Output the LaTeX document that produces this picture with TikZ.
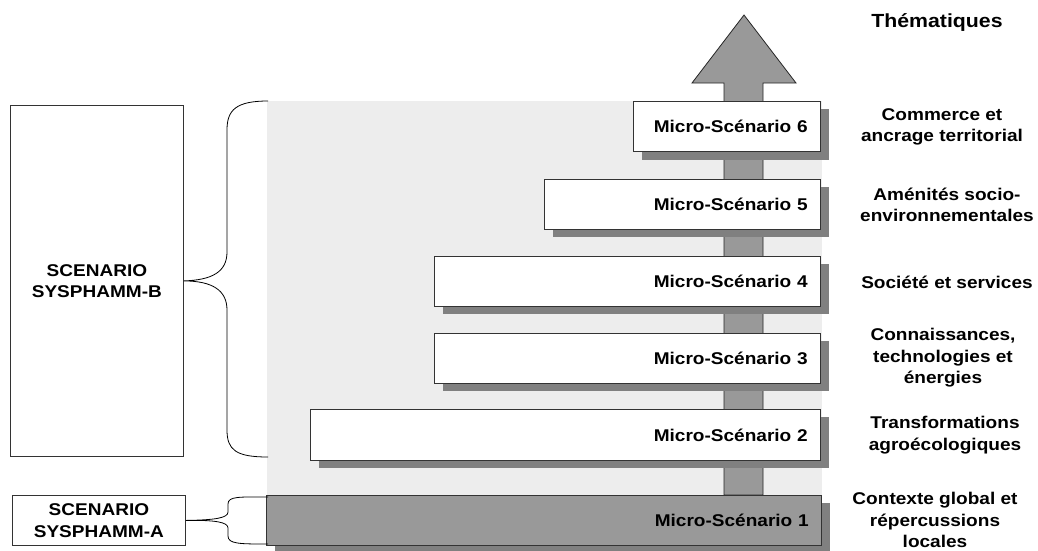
\documentclass[tikz,border=0pt]{standalone}
\usepackage{fontspec}
\setmainfont[FakeStretch=1.12]{Liberation Sans}
\begin{document}
\begin{tikzpicture}[x=1pt,y=-1pt,
  every node/.style={font=\fontsize{17}{21.5}\selectfont\bfseries},
  msbox/.style={draw=black!80, line width=0.8pt, fill=white, minimum height=50pt, inner xsep=13pt, anchor=north east, align=right},
  scenbox/.style={draw=black!80, line width=0.8pt, fill=white, align=center, inner sep=0pt},
  lab/.style={align=center, inner sep=0pt},
  brace/.style={draw=black, line width=0.8pt}]
\useasboundingbox (0,0) rectangle (1038,550);
% background area
\fill[black!7] (267,101) rectangle (822,495);
% big arrow
\draw[fill=black!40, draw=black!85, line width=0.8pt]
  (724,495) -- (724,83) -- (692,83) -- (744,15) -- (796,83) -- (763,83) -- (763,495) -- cycle;
% shadows
\foreach \xa/\ya/\xb/\yb in {634/101/821/152, 545/179/821/229, 435/256/821/306, 435/333/821/383, 311/409/821/460, 267/495/822/545}{
  \fill[black!50] (\xa+8,\ya+8) rectangle (\xb+8,\yb+8);
}
% micro-scenario boxes
\node[msbox, minimum width=187pt, text width=161pt] (m6) at (821,101) {Micro-Scénario 6};
\node[msbox, minimum width=276pt, text width=250pt] (m5) at (821,179) {Micro-Scénario 5};
\node[msbox, minimum width=386pt, text width=360pt] (m4) at (821,256) {Micro-Scénario 4};
\node[msbox, minimum width=386pt, text width=360pt] (m3) at (821,333) {Micro-Scénario 3};
\node[msbox, minimum width=510pt, text width=484pt, minimum height=51pt] (m2) at (821,409) {Micro-Scénario 2};
\node[msbox, fill=black!40, minimum width=555pt, text width=529pt] (m1) at (822,495) {Micro-Scénario 1};
% scenario boxes
\node[scenbox, minimum width=173pt, minimum height=351pt, anchor=north west] (sb) at (10,105) {SCENARIO\\SYSPHAMM-B};
\node[scenbox, minimum width=173pt, minimum height=50pt, anchor=north west] (sa) at (12,495) {SCENARIO\\SYSPHAMM-A};
% braces
\draw[brace] (268,101) .. controls (236,101) and (227,110) .. (227,130) -- (227,252)
  .. controls (227,272) and (212,280) .. (sb.east)
  .. controls (212,281) and (227,290) .. (227,310) -- (227,430)
  .. controls (227,450) and (236,457) .. (268,457);
\draw[brace] (268,497) .. controls (240,497) and (228,496) .. (228,504) -- (228,512)
  .. controls (228,518) and (215,520) .. (sa.east)
  .. controls (215,520) and (228,522) .. (228,528) -- (228,536)
  .. controls (228,544) and (240,544) .. (268,544);
% thematic labels
\node[lab, font=\fontsize{19}{22}\selectfont\bfseries] (th) at (937,22) {Thématiques};
\node[lab] (t6) at (942,127) {Commerce et\\ancrage territorial};
\node[lab] (t5) at (947,205) {Aménités socio-\\environnementales};
\node[lab] (t4) at (947,282) {Société et services};
\node[lab] (t3) at (943,358) {Connaissances,\\technologies et\\énergies};
\node[lab] (t2) at (945,435) {Transformations\\agroécologiques};
\node[lab] (t1) at (935,520) {Contexte global et\\répercussions\\locales};
\end{tikzpicture}
\end{document}
